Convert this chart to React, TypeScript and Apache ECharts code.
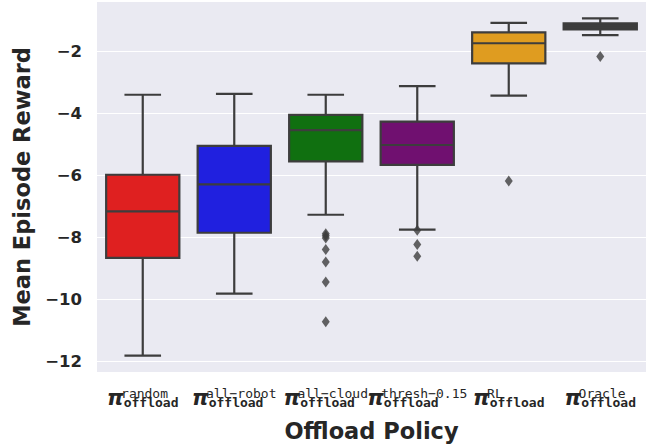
import React, { useEffect, useRef } from "react";
import * as echarts from "echarts";

const policies = ["random", "all\u2212robot", "all\u2212cloud", "thresh\u22120.15", "RL", "Oracle"];
const whiskerLow = [-11.81, -9.81, -7.27, -7.75, -3.43, -1.48];
const q1 = [-8.66, -7.85, -5.55, -5.66, -2.39, -1.29];
const median = [-7.16, -6.29, -4.54, -5.02, -1.74, -1.17];
const q3 = [-5.98, -5.05, -4.05, -4.27, -1.39, -1.1];
const whiskerHigh = [-3.4, -3.37, -3.4, -3.12, -1.08, -0.94];
const outliers: [number, number][] = [
  [2, -7.88], [2, -7.95], [2, -8.02], [2, -8.39], [2, -8.79], [2, -9.44], [2, -10.72],
  [3, -7.77], [3, -8.23], [3, -8.61],
  [4, -6.18],
  [5, -2.17],
];
const boxColors = ["#df2020", "#2020df", "#107010", "#701070", "#df9c20", "#3d3d3d"];

const EDGE = "#3d3d3d";
const TEXT = "#262626";

export default function App() {
  const ref = useRef<HTMLDivElement>(null);
  useEffect(() => {
    document.body.style.margin = "0";
    const chart = echarts.init(ref.current!, null, { renderer: "svg" });
    const boxData = policies.map((_, i) => [i, whiskerLow[i], q1[i], median[i], q3[i], whiskerHigh[i]]);
    chart.setOption({
      animation: false,
      grid: {
        left: 97, right: 9, top: 2, bottom: 72,
        backgroundColor: "#eaeaf2", show: true, borderWidth: 0,
        containLabel: false, outerBoundsMode: "none",
      },
      xAxis: {
        type: "category",
        data: policies,
        axisLine: { show: false },
        axisTick: { show: false },
        splitLine: { show: false },
        name: "Offload Policy",
        nameLocation: "middle",
        nameGap: 47,
        nameMoveOverlap: false,
        nameTextStyle: { fontFamily: "DejaVu Sans", fontWeight: "bold", fontSize: 22.5, color: TEXT },
        axisLabel: {
          interval: 0,
          hideOverlap: false,
          margin: 18,
          formatter: (v: string) => `{sp| }{sup|${v}}\n{pi|π}{sub|offload}`,
          rich: {
            sp: { width: 14, lineHeight: 7, align: "left", fontSize: 13 },
            sup: { fontFamily: "DejaVu Sans Mono", fontSize: 13, lineHeight: 7, color: TEXT, align: "left" },
            pi: { fontFamily: "DejaVu Sans", fontWeight: "bold", fontStyle: "italic", fontSize: 21, lineHeight: 3, verticalAlign: "bottom", color: TEXT, align: "left" },
            sub: { fontFamily: "DejaVu Sans Mono", fontWeight: "bold", fontSize: 13, lineHeight: 11, color: TEXT, align: "left" },
          },
        },
      },
      yAxis: {
        type: "value",
        min: -12.34,
        max: -0.41,
        splitNumber: 6,
        name: "Mean Episode Reward",
        nameLocation: "middle",
        nameGap: 64,
        nameMoveOverlap: false,
        nameTextStyle: { fontFamily: "DejaVu Sans", fontWeight: "bold", fontSize: 22.5, color: TEXT },
        axisLine: { show: false },
        axisTick: { show: false },
        splitLine: { show: true, showMinLine: false, showMaxLine: false, lineStyle: { color: "#ffffff", width: 1.2 } },
        axisLabel: {
          margin: 15,
          showMinLabel: false,
          showMaxLabel: false,
          fontFamily: "DejaVu Sans",
          fontWeight: "bold",
          fontSize: 16.5,
          color: TEXT,
          formatter: (v: number) => String(v).replace("-", "\u2212"),
        },
      },
      series: [
        {
          type: "custom",
          data: boxData,
          encode: { x: 0, y: [1, 2, 3, 4, 5] },
          renderItem: (params: any, api: any) => {
            const i = api.value(0);
            const bw = api.size([1, 0])[0] * 0.8;
            const cap = bw / 2;
            const pLo = api.coord([i, api.value(1)]);
            const pQ1 = api.coord([i, api.value(2)]);
            const pMed = api.coord([i, api.value(3)]);
            const pQ3 = api.coord([i, api.value(4)]);
            const pHi = api.coord([i, api.value(5)]);
            const cx = pMed[0];
            const lineStyle = { stroke: EDGE, lineWidth: 2.2, fill: null };
            return {
              type: "group",
              children: [
                { type: "line", shape: { x1: cx, y1: pQ1[1], x2: cx, y2: pLo[1] }, style: lineStyle },
                { type: "line", shape: { x1: cx, y1: pQ3[1], x2: cx, y2: pHi[1] }, style: lineStyle },
                { type: "line", shape: { x1: cx - cap / 2, y1: pLo[1], x2: cx + cap / 2, y2: pLo[1] }, style: lineStyle },
                { type: "line", shape: { x1: cx - cap / 2, y1: pHi[1], x2: cx + cap / 2, y2: pHi[1] }, style: lineStyle },
                {
                  type: "rect",
                  shape: { x: cx - bw / 2, y: pQ3[1], width: bw, height: pQ1[1] - pQ3[1] },
                  style: { fill: boxColors[i], stroke: EDGE, lineWidth: 2.2 },
                },
                { type: "line", shape: { x1: cx - bw / 2, y1: pMed[1], x2: cx + bw / 2, y2: pMed[1] }, style: lineStyle },
              ],
            };
          },
        },
        {
          type: "scatter",
          data: outliers,
          symbol: "diamond",
          symbolSize: [8, 11],
          itemStyle: { color: EDGE },
        },
      ],
    });
    return () => chart.dispose();
  }, []);
  return <div ref={ref} style={{ width: 655, height: 444 }} />;
}
